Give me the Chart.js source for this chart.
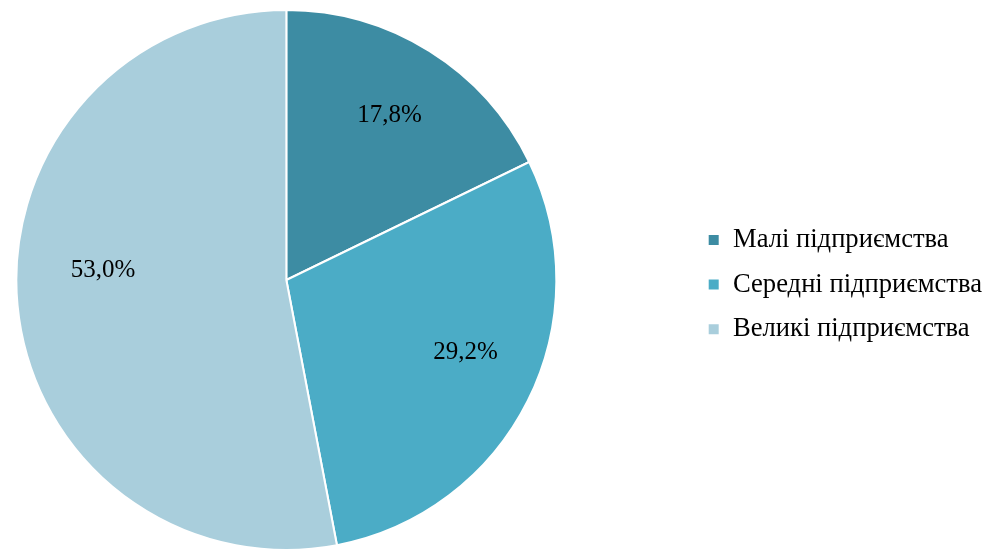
<!DOCTYPE html>
<html>
<head>
<meta charset="utf-8">
<script src="https://cdn.jsdelivr.net/npm/chart.js@4.4.0/dist/chart.umd.min.js"></script>
<style>
  html, body { margin: 0; padding: 0; background: #fff; overflow: hidden; }
  /* полотно ширше за вікно і зсунуте вліво, щоб коло стояло як в оригіналі */
  #container { width: 1109px; height: 551px; margin-left: -117px; }
</style>
</head>
<body>
<div id="container"><canvas id="canvas"></canvas></div>
<script>
var categories = ["Малі підприємства", "Середні підприємства", "Великі підприємства"];
var shares = [17.8, 29.2, 53.0];
var colors = ["#3D8CA3", "#4BACC6", "#A9CEDC"];

// невеликі зсуви підписів (кут у градусах, частка радіуса)
var labelAngleShift = [0, -4.7, 8.4];
var labelRadius = [0.72, 0.715, 0.68];

var sliceLabels = {
    id: 'sliceLabels',
    afterDatasetsDraw: function(chart) {
        var ctx = chart.ctx;
        var meta = chart.getDatasetMeta(0);
        ctx.save();
        ctx.font = '25px "Liberation Serif", "Times New Roman", serif';
        ctx.fillStyle = '#000';
        ctx.textAlign = 'center';
        ctx.textBaseline = 'middle';
        meta.data.forEach(function(arc, i) {
            var p = arc.getProps(['x', 'y', 'startAngle', 'endAngle', 'outerRadius']);
            var mid = (p.startAngle + p.endAngle) / 2 + labelAngleShift[i] * Math.PI / 180;
            var r = p.outerRadius * labelRadius[i];
            var txt = shares[i].toFixed(1).replace('.', ',') + '%';
            ctx.fillText(txt, p.x + Math.cos(mid) * r, p.y + Math.sin(mid) * r);
        });
        ctx.restore();
    }
};

var context = document.getElementById('canvas').getContext('2d');

var config = {
    type: 'pie',
    data: {
        labels: categories,
        datasets: [{
            data: shares,
            backgroundColor: colors,
            borderColor: '#ffffff',
            borderWidth: 2
        }]
    },
    options: {
        responsive: true,
        maintainAspectRatio: false,
        animation: false,
        layout: {
            padding: { left: 0, top: 9, bottom: 0, right: 0 }
        },
        plugins: {
            legend: {
                position: 'right',
                // порожній заголовок лише трохи опускає легенду
                title: { display: true, text: ' ', font: { size: 1 }, padding: { top: 0, bottom: 8 } },
                labels: {
                    boxWidth: 12,
                    boxHeight: 12,
                    padding: 18,
                    color: '#000',
                    font: { family: '"Liberation Serif", "Times New Roman", serif', size: 26.6 }
                }
            },
            tooltip: { enabled: false }
        }
    },
    plugins: [sliceLabels]
};

window.myPie = new Chart(context, config);
</script>
</body>
</html>
